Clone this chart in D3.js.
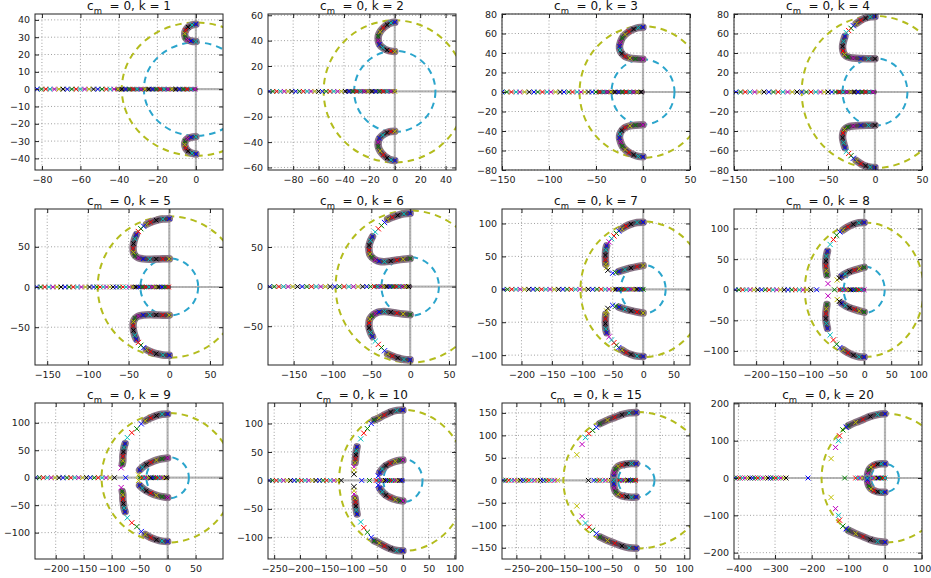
<!DOCTYPE html>
<html><head><meta charset="utf-8">
<script src="https://cdn.jsdelivr.net/npm/d3@7"></script>
<style>
body{margin:0;background:#fff;}
svg{display:block;font-family:"DejaVu Sans",sans-serif;}
</style></head><body>
<svg id="c" width="931" height="578"></svg>
<script>
const ks = [1,2,3,4,5,6,7,8,9,10,15,20];
const xDomains = [
 [-83.6,14.1],[-99.8,48.2],[-150,50],[-150,50],
 [-165,66],[-183,59],[-232,77],[-241,107],
 [-237,99],[-262,103],[-280,112],[-412,101]];
const yDomains = [
 [-46.7,43.4],[-62,61],[-80,80],[-80,80],
 [-97,97],[-99,98],[-115,122],[-123,132],
 [-148,136],[-138,136],[-175,172],[-217,201]];
const xTicks = [
 [-80,-60,-40,-20,0],[-80,-60,-40,-20,0,20,40],[-150,-100,-50,0,50],[-150,-100,-50,0,50],
 [-150,-100,-50,0,50],[-150,-100,-50,0,50],[-200,-150,-100,-50,0,50],[-200,-150,-100,-50,0,50,100],
 [-200,-150,-100,-50,0,50],[-250,-200,-150,-100,-50,0,50,100],[-250,-200,-150,-100,-50,0,50,100],[-400,-300,-200,-100,0,100]];
const yTicks = [
 [-40,-30,-20,-10,0,10,20,30,40],[-60,-40,-20,0,20,40,60],[-80,-60,-40,-20,0,20,40,60,80],[-80,-60,-40,-20,0,20,40,60,80],
 [-50,0,50],[-50,0,50],[-100,-50,0,50,100],[-100,-50,0,50,100],
 [-100,-50,0,50,100],[-100,-50,0,50,100],[-150,-100,-50,0,50,100,150],[-200,-100,0,100,200]];
const outerRadius = [38.5,56,67.5,78,88,96,103,110,118,124,152,173];
const innerRadius = [27,32,33.5,34.5,35.5,37,37,38,38,38,38,38];

const realRoots = [
 [-82.5,-80.2,-78,-75.8,-73.5,-71.2,-69,-66.8,-64.5,-62.2,-60,-57.8,-55.5,-53.2,-51,-48.8,-46.5,-44.5,-42.5,-40.5,-38.5,-36.5,-34.5,-32.5,-30.5,-28.5,-26.5,-24.5,-22.5,-20.5,-18.5,-16.5,-14.5,-12.5,-10.5,-8.5,-6.5,-4.5,-2.5,-0.5],
 [-99,-96,-93,-90,-87,-84,-81,-78,-75,-72,-69,-66,-63,-60,-57,-54,-51,-48,-45,-42,-39,-36,-33,-30,-27,-24,-21,-18,-15,-12,-9,-6,-3,0],
 [-150,-145,-140,-135,-131,-126,-121,-116,-112,-107,-102,-98,-93,-88,-84,-79,-75,-70,-66,-62,-58,-54,-50,-46,-42,-38,-34,-30,-26,-22,-18,-14,-10,-6,-2],
 [-148,-143,-138,-133,-128,-123,-118,-113,-108,-103,-98,-93,-88,-83,-78,-73,-68,-63,-58,-54,-50,-46,-42,-38,-34,-30,-26,-22,-18,-14,-10,-6,-2],
 [-163,-158,-153,-148,-143,-138,-133,-128,-123,-118,-113,-108,-103,-98,-93,-89,-85,-81,-77,-73,-69,-65,-61,-57,-53,-49,-45,-41,-37,-33,-29,-25,-21,-17,-13,-9,-5,-1],
 [-181,-175,-169,-163,-157,-151,-145,-139,-133,-127,-121,-115,-109,-103,-97,-91,-85,-79,-73,-67,-61,-56,-51,-46,-42,-38,-34,-30,-26,-22,-18,-14,-10,-6,-2],
 [-230,-223,-216,-209,-202,-195,-188,-181,-174,-167,-160,-153,-146,-139,-132,-125,-118,-111,-104,-97,-90,-83,-76,-69,-62,-56,-50,-45,-40,-35,-30,-25,-20,-15,-10,-5,0],
 [-239,-232,-225,-218,-211,-204,-197,-190,-183,-176,-169,-162,-155,-148,-141,-134,-127,-120,-113,-106,-99,-88,-55,-45,-40,-35,-30,-25,-20,-15,-10,-5,0],
 [-236,-229,-222,-215,-208,-201,-194,-187,-180,-173,-166,-159,-152,-145,-138,-131,-124,-117,-110,-103,-95,-75,-50,-46,-42,-38,-34,-30,-26,-22,-18,-14,-10,-6,-2],
 [-260,-253,-246,-239,-232,-225,-218,-211,-204,-197,-190,-183,-176,-169,-162,-155,-148,-141,-134,-127,-120,-80,-65,-52,-46,-42,-38,-34,-30,-26,-22,-18,-14,-10,-6,-2],
 [-278,-272,-266,-260,-254,-248,-242,-236,-230,-224,-218,-212,-206,-200,-194,-188,-182,-176,-170,-164,-100,-88,-82,-76,-70,-64,-58,-52,-47,-42,-37,-32,-27,-22,-17,-12,-7,-2],
 [-410,-403,-396,-389,-382,-375,-368,-361,-354,-347,-340,-333,-326,-319,-312,-305,-298,-291,-284,-277,-270,-210,-110,-80,-74,-68,-62,-56,-50,-45,-40,-35,-30,-25,-20,-15,-10,-5,0]];
const realDense = [[-41,0],[-38,0],[-48,0],[-40,0],[-45,0],[-45,0],[-45,0],[-45,0],[-48,0],[-48,0],[-47,0],[-48,0]];

// upper-half dense root branches (mirrored for the conjugate roots)
const denseBranches = [
 [[[0,37.5],[-2,37],[-4,35.8],[-5.3,34],[-5.8,32],[-5.5,30],[-4.3,28.6],[-2.5,27.8],[0,27.5]]],
 [[[0,54.5],[-3,54],[-6,52.5],[-9,50],[-11.5,47],[-13,43.5],[-13,40],[-12,37],[-9.5,34.5],[-6,32.5],[-3,31.7],[0,31.5]]],
 [[[0,66.5],[-5,66],[-10,64.5],[-15,62],[-19,59],[-22,55.5],[-24,51],[-25,47],[-24.5,43],[-22.5,39.5],[-19,36.5],[-14,34.8],[-8,34],[0,33.7]]],
 [[[0,77.5],[-5,77],[-10,75.8],[-15,73.5],[-20,70.2]],
  [[-32,57],[-33.5,52],[-34.5,47],[-34,42],[-32.5,38.5],[-29,36],[-23,34.8],[-15,34.3],[-7,34.2],[0,34.2]]],
 [[[0,85],[-8,84.5],[-16,83],[-23,80.5],[-28,78]],
  [[-40.5,65],[-42.5,60],[-44,54],[-44.5,48],[-44,43],[-42,39],[-38,36.2],[-32,35],[-24,34.6],[-16,34.7],[-8,35],[0,35]]],
 [[[0,92.5],[-8,92],[-16,90],[-23,87.5],[-29,85]],
  [[-48.5,63],[-51,58],[-52.8,52],[-53,46],[-52,41],[-49,37],[-45,34],[-40,32],[-33,31.5],[-25,32.3],[-17,33.5],[-9,34.5],[0,35.4]]],
 [[[0,102],[-10,101.5],[-20,99],[-28,96],[-35,92]],
  [[-60,66],[-61.5,60],[-62,52],[-62,45],[-61.5,38]],
  [[-40,27],[-30,30],[-20,32.5],[-10,34.5],[0,36]]],
 [[[0,110],[-10,109.5],[-20,107],[-30,103],[-39,98]],
  [[-68,63],[-70,55],[-71,47],[-71,39],[-70,31],[-69,24]],
  [[-42,22],[-35,26],[-27,29.5],[-18,32],[-9,34.5],[0,36.5]]],
 [[[0,116],[-10,115.5],[-20,113],[-30,109],[-40,103.5]],
  [[-76,62],[-78,55],[-79,47],[-80,39],[-80,31],[-81,25]],
  [[-50,14],[-45,19],[-38,24],[-30,28],[-20,32],[-10,34.5],[0,36]]],
 [[[0,123.5],[-12,123],[-24,120],[-36,115],[-46,110],[-56,106]],
  [[-89,59],[-90.5,52],[-91.5,45],[-92,38],[-93,31]],
  [[-45,14],[-40,20],[-33,26],[-25,30],[-15,33.5],[-5,35.5],[0,36]]],
 [[[0,151],[-15,150],[-30,146],[-45,140],[-60,134],[-76,126]],
  [[0,37],[-10,37.5],[-20,36.5],[-30,34.5],[-38,31],[-43,25],[-46,17],[-47,8],[-47,0]]],
 [[[0,172],[-20,170],[-40,165],[-60,157],[-80,149],[-100,140]],
  [[0,38],[-10,38],[-20,37],[-30,34],[-38,29],[-44,21],[-47,12],[-48,4],[-48,0]]]];

// isolated upper-half roots (mirrored)
const sparseRoots = [
 [],
 [],
 [],
 [[-23,68],[-25.5,65.3],[-28,63],[-30.5,61]],
 [[-31.5,75.5],[-35,72.5],[-38,69]],
 [[-33,81],[-37,77],[-41,73],[-45,69]],
 [[-40,88.5],[-44,85],[-48,81],[-52,77],[-56,72],[-60,33],[-58,29],[-50,24.5],[-45,25.5]],
 [[-45,94.5],[-51,89],[-57,82],[-63,74],[-67,10],[-50,16],[-46,19]],
 [[-47,98],[-55,89],[-64,82],[-72,73],[-83,18],[-52,5]],
 [[-61.5,100],[-69,91],[-76,83],[-82,73],[-95,24],[-95,18],[-95,11],[-48,8]],
 [[-83,118],[-91,111],[-99,104],[-106,95],[-113,80],[-124,57]],
 [[-106,136],[-115,129],[-124,113],[-127,100],[-135,82],[-147,52]]];

const colors = ['#0000ff','#008000','#ff0000','#00bfbf','#bf00bf','#bfbf00','#000000'];
const svg = d3.select('#c');
const lefts = [35,268,502,734], tops = [14,209,403], W = 188, H = 156;
const fmt = d3.format('d');
function marker(g, px, py, col, s){
  const xm = s || 2.5;
  g.append('path').attr('d',`M${px-xm},${py-xm}L${px+xm},${py+xm}M${px-xm},${py+xm}L${px+xm},${py-xm}`)
   .attr('stroke',col).attr('stroke-width',1).attr('fill','none');
}

ks.forEach((k,i)=>{
  const L = lefts[i%4], T = tops[Math.floor(i/4)];
  const x = d3.scaleLinear().domain(xDomains[i]).range([L,L+W]);
  const y = d3.scaleLinear().domain(yDomains[i]).range([T+H,T]);
  const cid = 'clip'+i;
  svg.append('clipPath').attr('id',cid).append('rect').attr('x',L).attr('y',T).attr('width',W).attr('height',H);
  const g = svg.append('g');
  // grid
  const grid = g.append('g').attr('stroke','#777').attr('stroke-width',0.7).attr('stroke-dasharray','1,2.2');
  xTicks[i].forEach(t=>grid.append('line').attr('x1',x(t)).attr('x2',x(t)).attr('y1',T).attr('y2',T+H));
  yTicks[i].forEach(t=>grid.append('line').attr('y1',y(t)).attr('y2',y(t)).attr('x1',L).attr('x2',L+W));
  const p = g.append('g').attr('clip-path',`url(#${cid})`);
  // zero lines
  p.append('line').attr('x1',L).attr('x2',L+W).attr('y1',y(0)).attr('y2',y(0)).attr('stroke','#999').attr('stroke-opacity',0.7).attr('stroke-width',2.2);
  p.append('line').attr('y1',T).attr('y2',T+H).attr('x1',x(0)).attr('x2',x(0)).attr('stroke','#999').attr('stroke-opacity',0.7).attr('stroke-width',2.2);
  // dashed circles
  [[outerRadius[i],'#b3bc1d'],[innerRadius[i],'#2ba5cc']].forEach(([r,c])=>{
    p.append('ellipse').attr('cx',x(0)).attr('cy',y(0)).attr('rx',x(r)-x(0)).attr('ry',y(0)-y(r))
     .attr('fill','none').attr('stroke',c).attr('stroke-width',2).attr('stroke-dasharray','6.5,5');
  });
  // real axis dense band
  const rd = realDense[i];
  p.append('line').attr('x1',x(rd[0])).attr('x2',x(rd[1])).attr('y1',y(0)).attr('y2',y(0))
   .attr('stroke','#5a4a58').attr('stroke-width',4).attr('stroke-linecap','round');
  realRoots[i].forEach((v,j)=>marker(p,x(v),y(0),colors[j%7],2.4));
  // dense branches
  const line = d3.line().x(d=>x(d[0])).y(d=>y(d[1])).curve(d3.curveCatmullRom);
  denseBranches[i].forEach(br=>{
    [1,-1].forEach(s=>{
      const pts = br.map(d=>[d[0],s*d[1]]);
      p.append('path').attr('d',line(pts)).attr('fill','none').attr('stroke','#8a7688')
       .attr('stroke-width',7.5).attr('stroke-linecap','round').attr('stroke-linejoin','round');
      p.append('path').attr('d',line(pts)).attr('fill','none').attr('stroke','#4f3f4e')
       .attr('stroke-width',4).attr('stroke-linecap','round').attr('stroke-linejoin','round');
      pts.forEach((d,j)=>marker(p,x(d[0]),y(d[1]),colors[(j*3)%7],2.2));
    });
  });
  sparseRoots[i].forEach((d,j)=>{
    [1,-1].forEach(s=>marker(p,x(d[0]),y(s*d[1]),colors[j%7],2.6));
  });
  // axes ticks
  const axG = g.append('g');
  const ab = axG.append('g').attr('transform',`translate(0,${T+H})`).call(d3.axisBottom(x).tickValues(xTicks[i]).tickFormat(fmt).tickSize(-4).tickPadding(6));
  const at = axG.append('g').attr('transform',`translate(0,${T})`).call(d3.axisTop(x).tickValues(xTicks[i]).tickFormat('').tickSize(-4));
  const al = axG.append('g').attr('transform',`translate(${L},0)`).call(d3.axisLeft(y).tickValues(yTicks[i]).tickFormat(fmt).tickSize(-4).tickPadding(5));
  const ar = axG.append('g').attr('transform',`translate(${L+W},0)`).call(d3.axisRight(y).tickValues(yTicks[i]).tickFormat('').tickSize(-4));
  [ab,at,al,ar].forEach(a=>{a.select('.domain').remove(); a.selectAll('text').attr('font-family','DejaVu Sans').attr('font-size',9.5).attr('fill','#222'); a.selectAll('line').attr('stroke','#222');});
  // frame
  g.append('rect').attr('x',L).attr('y',T).attr('width',W).attr('height',H).attr('fill','none').attr('stroke','#222').attr('stroke-width',1);
  // title
  const tt = g.append('text').attr('x',L+W/2).attr('y',T-4).attr('text-anchor','middle').attr('font-size',12).attr('fill','#111').style('white-space','pre');
  tt.append('tspan').text('c');
  tt.append('tspan').attr('font-size',8.5).attr('dy',3.5).text('m');
  tt.append('tspan').attr('dy',-3.5).text('  = 0, k = ' + k);
});
</script>
</body></html>
